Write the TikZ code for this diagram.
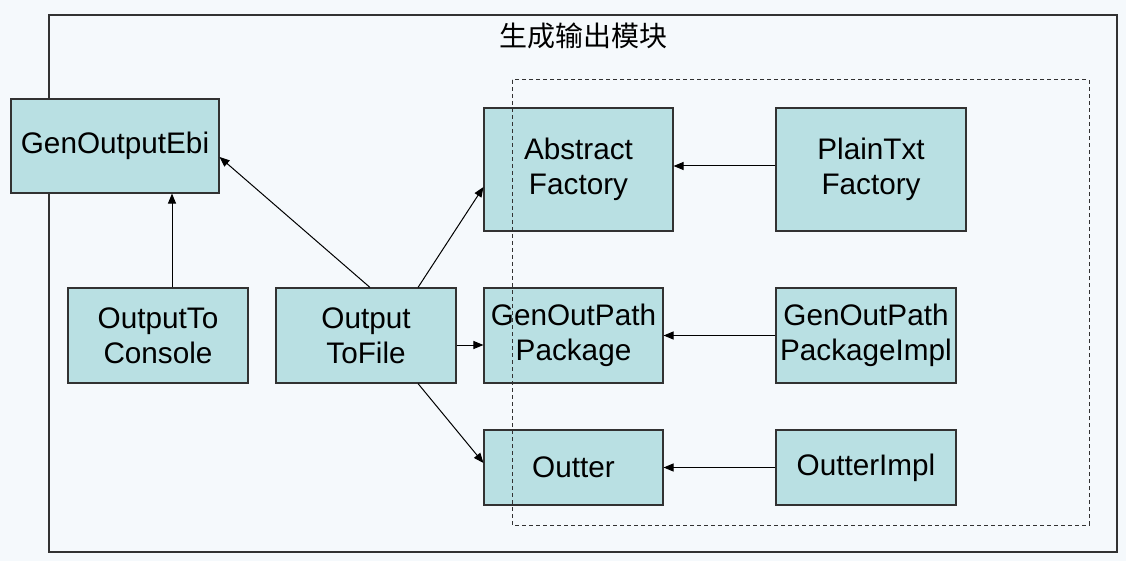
\documentclass[tikz,border=0pt]{standalone}
\usepackage{fontspec}
\setmainfont{Liberation Sans}
\newfontfamily\cjk{Noto Sans CJK SC}
\usetikzlibrary{arrows.meta}
\definecolor{boxfill}{RGB}{185,224,227}
\definecolor{bgcol}{RGB}{245,249,252}
\definecolor{edgecol}{RGB}{50,50,50}
\begin{document}
\begin{tikzpicture}[x=1pt,y=-1pt,
  cls/.style={draw=edgecol, fill=boxfill, line width=1.1pt, align=center, inner sep=0pt,
    font=\fontsize{29.7}{35}\selectfont},
  arr/.style={-{Triangle[length=10pt,width=8pt]}, line width=1pt, draw=black},
  frame/.style={draw=edgecol, line width=1.1pt}]
\fill[bgcol] (0,0) rectangle (1126,561);
\useasboundingbox (0,0) rectangle (1126,561);
\draw[frame] (49,15) rectangle (1117,552);
\node[font=\cjk\fontsize{28}{34}\selectfont] (title) at (583,36) {生成输出模块};

\node[cls, minimum width=208pt, minimum height=94pt] (ebi) at (115,146) {GenOutputEbi};
\node[cls, minimum width=180pt, minimum height=95pt] (con) at (158,335.5) {OutputTo\\Console};
\node[cls, minimum width=180pt, minimum height=95pt] (tf) at (366,335.5) {Output\\ToFile};
\node[cls, minimum width=189pt, minimum height=123pt] (ab) at (578.5,169.5) {Abstract\\Factory};
\node[cls, minimum width=190pt, minimum height=123pt] (pt) at (871,169.5) {PlainTxt\\Factory};
\node[cls, minimum width=179pt, minimum height=95pt] (pkg) at (573.5,335.5) {GenOutPath\\Package};
\node[cls, minimum width=180pt, minimum height=95pt] (pkgi) at (866,335.5) {GenOutPath\\PackageImpl};
\node[cls, minimum width=179pt, minimum height=75pt] (out) at (573.5,467.5) {Outter};
\node[cls, minimum width=180pt, minimum height=75pt] (outi) at (866,467.5) {OutterImpl};

\coordinate (c172) at (172,0);
\coordinate (c370) at (370,0);
\coordinate (c418) at (418,0);
\draw[arr] (con.north -| c172) -- (ebi.south -| c172);
\draw[arr] (tf.north -| c370) -- ([yshift=-11pt]ebi.east);
\draw[arr] (tf.north -| c418) -- ([yshift=-17.5pt]ab.west);
\draw[arr] ([yshift=-9.5pt]tf.east) -- ([yshift=-9.5pt]pkg.west);
\draw[arr] (tf.south -| c418) -- ([yshift=4.5pt]out.west);
\draw[arr] ([yshift=3.5pt]pt.west) -- ([yshift=3.5pt]ab.east);
\draw[arr] (pkgi.west) -- (pkg.east);
\draw[arr] (outi.west) -- (out.east);

\draw[dashed, draw=edgecol, line width=1pt, dash pattern=on 4pt off 3pt] (512,80) rectangle (1089,525);
\end{tikzpicture}
\end{document}
